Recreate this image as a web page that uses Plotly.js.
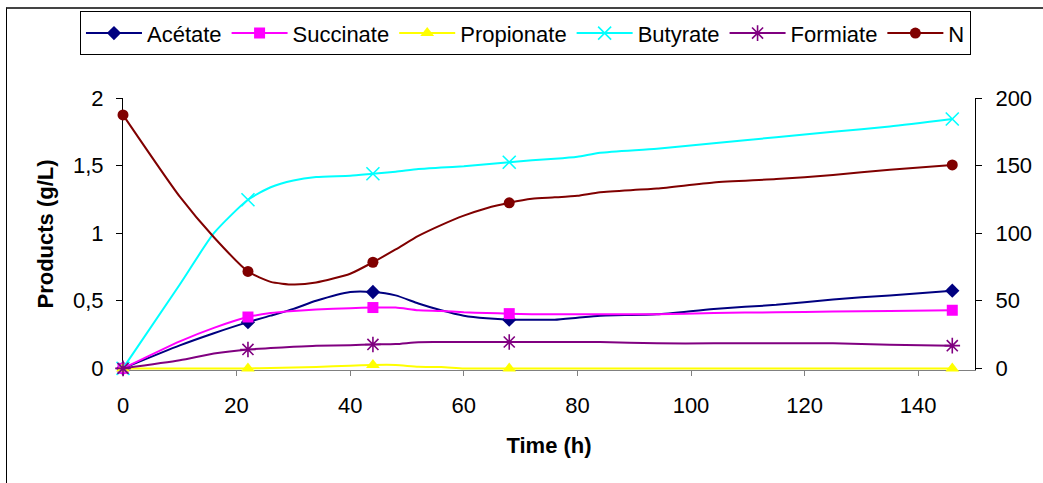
<!DOCTYPE html>
<html><head><meta charset="utf-8">
<script src="https://cdn.plot.ly/plotly-3.0.1.min.js"></script>
<style>
html,body{margin:0;padding:0;background:#fff;overflow:hidden}
#wrap{position:relative;width:1043px;height:483px;overflow:hidden}
#chart{width:1043px;height:483px}
#frame{position:absolute;left:6px;top:7px;width:1100px;height:600px;border-left:1px solid #000;border-top:2px solid #444;pointer-events:none}
</style></head><body>
<div id="wrap"><div id="chart"></div><div id="frame"></div></div>
<script>
// Time (h)
const time = [0, 10, 16, 22, 26, 30, 34, 40, 44, 48, 52, 56, 60, 64, 68, 72, 76, 80, 84, 94, 104, 115, 125, 135, 146];
const keyTimes = [0, 22, 44, 68, 146];
// Products (g/L)
const acetate    = [0, 0.17, 0.26, 0.342, 0.39, 0.44, 0.50, 0.565, 0.565, 0.54, 0.48, 0.43, 0.39, 0.37, 0.36, 0.36, 0.36, 0.375, 0.39, 0.40, 0.44, 0.47, 0.51, 0.54, 0.575];
const succinate  = [0, 0.20, 0.30, 0.38, 0.41, 0.425, 0.435, 0.445, 0.45, 0.45, 0.43, 0.425, 0.415, 0.41, 0.405, 0.40, 0.40, 0.40, 0.40, 0.40, 0.41, 0.415, 0.42, 0.425, 0.43];
const propionate = [0, 0, 0, 0, 0.003, 0.006, 0.01, 0.02, 0.025, 0.025, 0.012, 0.01, 0, 0, 0, 0, 0, 0, 0, 0, 0, 0, 0, 0, 0];
const butyrate   = [0, 0.62, 1.0, 1.247, 1.34, 1.39, 1.415, 1.425, 1.44, 1.455, 1.475, 1.485, 1.495, 1.51, 1.525, 1.54, 1.55, 1.565, 1.595, 1.625, 1.665, 1.71, 1.75, 1.79, 1.845];
const formiate   = [0, 0.06, 0.11, 0.14, 0.15, 0.16, 0.168, 0.172, 0.177, 0.18, 0.194, 0.195, 0.195, 0.195, 0.195, 0.195, 0.195, 0.195, 0.195, 0.185, 0.185, 0.185, 0.185, 0.175, 0.168];
// N (right axis)
const nitrogen   = [187.5, 127, 97, 71.7, 64, 62, 63.5, 70, 78.5, 88, 98, 106, 113, 118.5, 122.5, 125.5, 126.5, 127.7, 130.3, 133, 137.5, 140, 143, 147, 150.5];

const names = ['Acétate', 'Succinate', 'Propionate', 'Butyrate', 'Formiate', 'N'];
const seriesData = [acetate, succinate, propionate, butyrate, formiate, nitrogen];
const colors = ['#000080', '#FF00FF', '#FFFF00', '#00FFFF', '#800080', '#800000'];
const symbols = ['diamond', 'square', 'triangle-up', 'x-thin-open', 'asterisk-open', 'circle'];
const sizes = [11, 11, 12, 13, 13, 11];
const axes = ['y', 'y', 'y', 'y', 'y', 'y2'];

const FONT = 'Liberation Sans, Arial, sans-serif';
const FS = 22;
const traces = [];
names.forEach((nm, i) => {
  const vals = seriesData[i];
  const kx = [], ky = [];
  time.forEach((t, j) => { if (keyTimes.includes(t)) { kx.push(t); ky.push(vals[j]); } });
  const mk = {symbol: symbols[i], size: sizes[i], color: colors[i], line: {color: colors[i], width: (symbols[i].indexOf('open') >= 0 ? 1.6 : 0)}};
  traces.push({x: time, y: vals, yaxis: axes[i], mode: 'lines', cliponaxis: false, line: {color: colors[i], width: 2, shape: 'spline', smoothing: 0.6}, showlegend: false, hoverinfo: 'skip'});
  traces.push({x: kx, y: ky, yaxis: axes[i], mode: 'markers', cliponaxis: false, marker: mk, showlegend: false});
  traces.push({x: [null], y: [null], yaxis: axes[i], name: nm, mode: 'lines+markers', line: {color: colors[i], width: 2}, marker: mk, showlegend: true});
});

const layout = {
  width: 1043, height: 483,
  margin: {l: 123, r: 68, t: 97, b: 113},
  paper_bgcolor: '#fff', plot_bgcolor: '#fff',
  separators: ', ',
  font: {family: FONT, size: FS, color: '#000'},
  showlegend: true,
  legend: {orientation: 'h', x: -0.0505, y: 1.314, xanchor: 'left', yanchor: 'top',
           bgcolor: '#fff', bordercolor: '#000', borderwidth: 1,
           font: {family: FONT, size: FS, color: '#000'}, itemwidth: 56},
  xaxis: {range: [0, 150], tick0: 0, dtick: 20, ticks: 'outside', ticklen: 5, tickcolor: '#808080',
          showline: true, linecolor: '#808080', linewidth: 1, showgrid: false, zeroline: false, layer: 'below traces',
          tickfont: {family: FONT, size: FS}, ticklabelstandoff: 11,
          title: {text: '<b>Time (h)</b>', font: {family: FONT, size: FS}, standoff: 20}},
  yaxis: {range: [-0.012, 2], tick0: 0, dtick: 0.5, ticks: 'outside', ticklen: 6, tickcolor: '#000',
          showline: true, linecolor: '#000', linewidth: 1, showgrid: false, zeroline: false, layer: 'below traces',
          tickfont: {family: FONT, size: FS}, ticklabelstandoff: 8,
          title: {text: '<b>Products (g/L)</b>', font: {family: FONT, size: FS}, standoff: 13}},
  yaxis2: {overlaying: 'y', side: 'right', range: [-1.2, 200], tick0: 0, dtick: 50, ticks: 'outside', ticklen: 6,
           tickcolor: '#000', showline: true, linecolor: '#000', linewidth: 1, showgrid: false, zeroline: false, layer: 'below traces',
           tickfont: {family: FONT, size: FS}, ticklabelstandoff: 9}
};
Plotly.newPlot('chart', traces, layout, {displayModeBar: false, staticPlot: true});
</script>
</body></html>
